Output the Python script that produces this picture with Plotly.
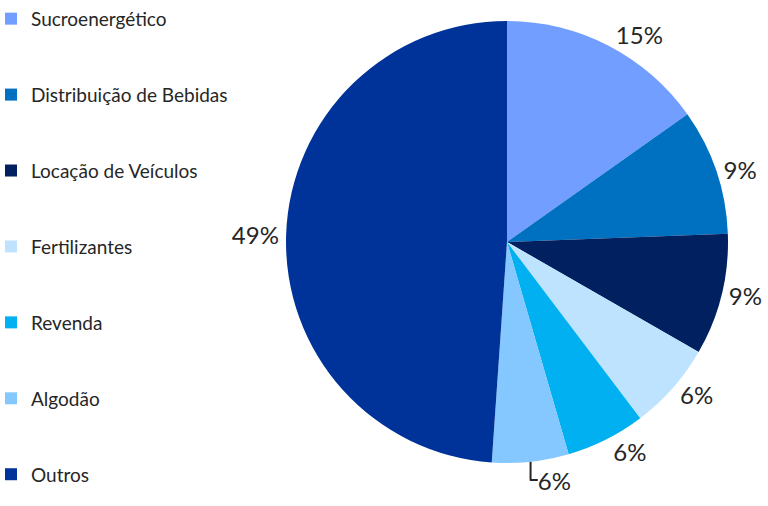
import plotly.graph_objects as go

categories = ["Sucroenergético", "Distribuição de Bebidas", "Locação de Veículos",
              "Fertilizantes", "Revenda", "Algodão", "Outros"]
values = [15.2, 9.2, 8.9, 6.4, 5.8, 5.6, 48.9]
colors = ["#719EFF", "#0070C0", "#002060", "#BDE3FF", "#00B0F0", "#85C8FF", "#003399"]

# legend labels: extra blank lines give the wide spacing between entries
legend_labels = []
for i, c in enumerate(categories):
    span = '<span style="font-size:19px">' + c + '</span>'
    if i < len(categories) - 1:
        span += "<br> <br> "
    legend_labels.append(span)

fig = go.Figure(go.Pie(
    labels=legend_labels,
    values=values,
    sort=False,
    direction="clockwise",
    rotation=0,
    marker=dict(colors=colors, line=dict(width=0)),
    textposition="outside",
    texttemplate="%{percent:.0%}",
    textfont=dict(family="Lato", size=24, color="#262626"),
    hoverinfo="skip",
    domain=dict(x=[0.3724, 0.9479], y=[0.085, 0.9585]),
))

fig.update_layout(
    width=768, height=506,
    margin=dict(l=0, r=0, t=0, b=0, autoexpand=False),
    paper_bgcolor="white",
    plot_bgcolor="white",
    showlegend=True,
    legend=dict(
        x=-0.0117, xanchor="left", y=1.0, yanchor="top",
        maxheight=800,
        font=dict(family="Lato", size=18.7, color="#262626"),
        valign="top",
        bgcolor="rgba(0,0,0,0)",
    ),
)

fig.write_html("out.html", config={"displayModeBar": False},
               post_script="document.body.style.margin='0';")
